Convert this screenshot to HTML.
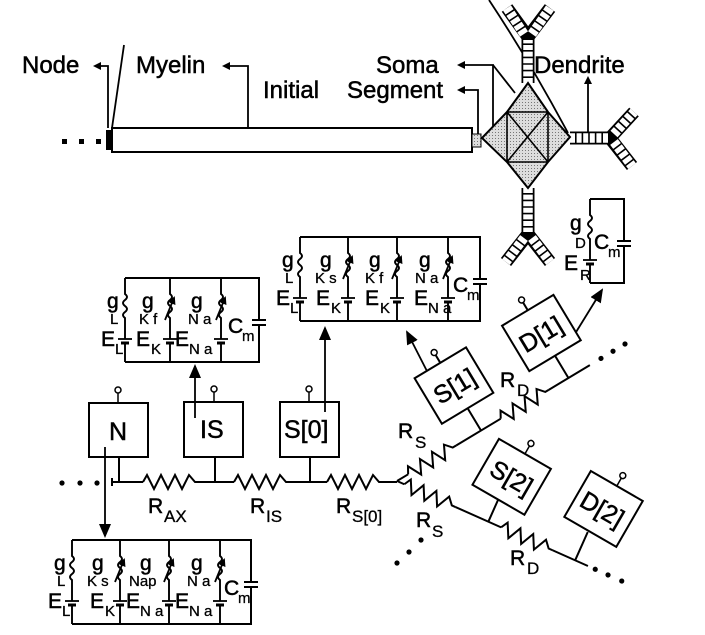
<!DOCTYPE html>
<html><head><meta charset="utf-8"><style>
html,body{margin:0;padding:0;background:#fff}
svg{display:block}
text{font-family:"Liberation Sans",Arial,sans-serif;fill:#000;stroke:#000;stroke-width:0.5}
.t{font-size:24px}
.g{font-size:21px}
.s{font-size:15px;stroke-width:0.3}
.b{font-size:25px}
</style></head><body>
<svg width="705" height="635" viewBox="0 0 705 635" xmlns="http://www.w3.org/2000/svg">
<defs>
<marker id="ah" markerWidth="8" markerHeight="8" refX="6" refY="4" orient="auto" markerUnits="userSpaceOnUse">
<path d="M0,0 L8,4 L0,8 z" fill="#000"/></marker>
<marker id="ah2" markerWidth="14" markerHeight="12" refX="12" refY="6" orient="auto" markerUnits="userSpaceOnUse">
<path d="M0,0 L14,6 L0,12 z" fill="#000"/></marker>
<pattern id="dots" width="3" height="3" patternUnits="userSpaceOnUse"><rect width="3" height="3" fill="#ddd"/><rect width="1" height="1" fill="#777"/></pattern>
<g id="br" fill="none" stroke="#000" stroke-width="1.9">
<path d="M0,0 V16 q4,3 0,6 q-4,3 0,6 q4,3 0,6 q-4,3 0,6 V61 M0,65 V84"/>
<path d="M-7,61 H7" stroke-width="1.8"/><path d="M-4,65 H4" stroke-width="3"/>
</g>
<g id="brv">
<use href="#br"/>
<path d="M-5,42 L4,20" stroke="#000" stroke-width="1.8" marker-end="url(#ah)"/>
</g>
<polyline id="zig" points="0,0 4,-7 11,7 18,-7 25,7 32,-7 39,7 46,-7 52,0 56,0" fill="none" stroke="#000" stroke-width="2"/>
</defs>

<text class="t" x="22" y="73">Node</text>
<text class="t" x="136" y="73">Myelin</text>
<text class="t" x="263" y="98">Initial</text>
<text class="t" x="376" y="73">Soma</text>
<text class="t" x="347" y="98">Segment</text>
<text class="t" x="534" y="73">Dendrite</text>

<g fill="none" stroke="#000" stroke-width="1.8">
<path d="M108,128 V66 H95" marker-end="url(#ah)"/>
<path d="M248,128 V66 H224" marker-end="url(#ah)"/>
<path d="M478,135 V90 H459" marker-end="url(#ah)"/>
<path d="M493,130 V65 H459" marker-end="url(#ah)"/>
<path d="M493,65 L515,93"/>
<path d="M588,133 V78" marker-end="url(#ah)"/>
<path d="M112,128 L124,45"/>
<path d="M489,0 Q530,62 568,133"/>
</g>
<rect x="62" y="139" width="5" height="5"/><rect x="79" y="139" width="5" height="5"/><rect x="96" y="139" width="5" height="5"/>
<rect x="106" y="130" width="6" height="20"/>
<rect x="112" y="128" width="360" height="24" fill="#fff" stroke="#000" stroke-width="2"/>
<rect x="472" y="134" width="9" height="13" fill="url(#dots)" stroke="#000" stroke-width="1"/>

<g fill="none">
<g stroke="#000" stroke-width="13">
<path d="M528,83 V35 M528,37 L507,8 M528,37 L550,8"/>
<path d="M570,138 H612 M610,138 L634,112 M610,138 L632,166"/>
<path d="M528,188 V236 M528,234 L506,262 M528,234 L550,262"/>
</g>
<g stroke="#fff" stroke-width="9.5" stroke-dasharray="5 1.6">
<path d="M528,83 V40 M524,34 L507,8 M532,34 L550,8"/>
<path d="M570,138 H608 M614,134 L634,112 M614,142 L632,166"/>
<path d="M528,188 V232 M524,238 L506,262 M532,238 L550,262"/>
</g>
</g>
<polygon points="482,138 507,112 528,83 548,112 570,137 548,162 528,188 507,162" fill="url(#dots)" stroke="#000" stroke-width="2"/>
<path d="M507,112 H548 M507,162 H548 M507,112 V162 M548,112 V162 M507,112 L548,162 M548,112 L507,162" stroke="#000" stroke-width="1.6" fill="none"/>

<g stroke="#000" stroke-width="2" fill="none">
<path d="M300,237 H480 V279 M300,321 H480 V284 M473,279 H487 M473,284 H487"/>
<path d="M125,278 H259 V320 M125,362 H259 V325 M252,320 H266 M252,325 H266"/>
<path d="M72,540 H251 V582 M72,624 H251 V587 M244,582 H258 M244,587 H258"/>
<path d="M590,199 H624 V241 M590,283 H624 V246 M617,241 H631 M617,246 H631"/>
</g>
<use href="#br" x="300" y="237"/><use href="#brv" x="348" y="237"/><use href="#brv" x="397" y="237"/><use href="#brv" x="448" y="237"/>
<use href="#br" x="125" y="278"/><use href="#brv" x="170" y="278"/><use href="#brv" x="221" y="278"/>
<use href="#br" x="72" y="540"/><use href="#brv" x="120" y="540"/><use href="#brv" x="169" y="540"/><use href="#brv" x="220" y="540"/>
<use href="#br" x="590" y="199"/>

<g transform="translate(300,237)">
<text class="g" x="-18" y="30">g</text><text class="s" x="-15" y="46">L</text>
<text class="g" x="-24" y="68">E</text><text class="s" x="-10" y="76">L</text>
<text class="g" x="20" y="30">g</text><text class="s" x="15" y="46">K s</text>
<text class="g" x="16" y="68">E</text><text class="s" x="31" y="76">K</text>
<text class="g" x="69" y="30">g</text><text class="s" x="65" y="46">K f</text>
<text class="g" x="65" y="68">E</text><text class="s" x="80" y="76">K</text>
<text class="g" x="119" y="30">g</text><text class="s" x="115" y="46">N a</text>
<text class="g" x="114" y="68">E</text><text class="s" x="128" y="76">N a</text>
<text class="g" x="153" y="55">C</text><text class="s" x="167" y="63">m</text>
</g>
<g transform="translate(125,278)">
<text class="g" x="-18" y="30">g</text><text class="s" x="-15" y="46">L</text>
<text class="g" x="-24" y="68">E</text><text class="s" x="-10" y="76">L</text>
<text class="g" x="17" y="30">g</text><text class="s" x="14" y="46">K f</text>
<text class="g" x="11" y="68">E</text><text class="s" x="26" y="76">K</text>
<text class="g" x="66" y="30">g</text><text class="s" x="63" y="46">N a</text>
<text class="g" x="50" y="68">E</text><text class="s" x="64" y="76">N a</text>
<text class="g" x="103" y="55">C</text><text class="s" x="117" y="63">m</text>
</g>
<g transform="translate(72,540)">
<text class="g" x="-18" y="30">g</text><text class="s" x="-15" y="46">L</text>
<text class="g" x="-24" y="68">E</text><text class="s" x="-10" y="76">L</text>
<text class="g" x="20" y="30">g</text><text class="s" x="15" y="46">K s</text>
<text class="g" x="18" y="68">E</text><text class="s" x="33" y="76">K</text>
<text class="g" x="68" y="30">g</text><text class="s" x="57" y="46">Nap</text>
<text class="g" x="54" y="68">E</text><text class="s" x="68" y="76">N a</text>
<text class="g" x="119" y="30">g</text><text class="s" x="115" y="46">N a</text>
<text class="g" x="103" y="68">E</text><text class="s" x="117" y="76">N a</text>
<text class="g" x="152" y="55">C</text><text class="s" x="166" y="63">m</text>
</g>
<g transform="translate(590,199)">
<text class="g" x="-20" y="31">g</text><text class="s" x="-15" y="49">D</text>
<text class="g" x="-26" y="71">E</text><text class="s" x="-10" y="81">R</text>
<text class="g" x="4" y="50">C</text><text class="s" x="18" y="58">m</text>
</g>

<circle cx="62" cy="483" r="2.6"/><circle cx="80" cy="483" r="2.6"/><circle cx="97" cy="483" r="2.6"/>
<path d="M112,478 V486 M112,482 H143 M199,482 H234 M290,482 H327 M383,482 H397 M119,457 V482 M215,457 V482 M310,457 V482" stroke="#000" stroke-width="2" fill="none"/>
<use href="#zig" transform="translate(143,482)"/>
<use href="#zig" transform="translate(234,482)"/>
<use href="#zig" transform="translate(327,482)"/>

<g stroke="#000" stroke-width="2" fill="#fff">
<rect x="89" y="403" width="59" height="54"/>
<rect x="184" y="402" width="59" height="55"/>
<rect x="280" y="402" width="59" height="55"/>
</g>
<path d="M118,403 V393 M214,402 V392 M309,402 V392" stroke="#000" stroke-width="1.5"/>
<g fill="#fff" stroke="#000" stroke-width="1.5"><circle cx="118" cy="390" r="3"/><circle cx="214" cy="389" r="3"/><circle cx="309" cy="389" r="3"/></g>
<text class="b" x="109" y="440">N</text>
<text class="b" x="200" y="438">IS</text>
<text class="b" x="284" y="438">S[0]</text>

<g fill="none" stroke="#000" stroke-width="1.8">
<path d="M105,447 V536" marker-end="url(#ah2)"/>
<path d="M195,418 V366" marker-end="url(#ah2)"/>
<path d="M325,412 V328" marker-end="url(#ah2)"/>
<path d="M430,377 L407,332" marker-end="url(#ah2)"/>
<path d="M573,337 L602,290" marker-end="url(#ah2)"/>
</g>

<text class="g" x="148" y="513">R</text><text class="s" x="164" y="522" style="font-size:17px">AX</text>
<text class="g" x="250" y="513">R</text><text class="s" x="266" y="522" style="font-size:17px">IS</text>
<text class="g" x="336" y="513">R</text><text class="s" x="352" y="522" style="font-size:17px">S[0]</text>

<g transform="translate(397,481) rotate(-31)">
<path d="M0,0 H13 M69,0 H121 M177,0 H225 M98,0 V-26 M200,0 V-26 M98,-79 V-88 M200,-79 V-88" stroke="#000" stroke-width="2" fill="none"/>
<use href="#zig" x="13"/><use href="#zig" x="121"/>
<rect x="68" y="-79" width="60" height="53" fill="#fff" stroke="#000" stroke-width="2"/>
<rect x="170" y="-79" width="60" height="53" fill="#fff" stroke="#000" stroke-width="2"/>
<circle cx="98" cy="-91" r="3" fill="#fff" stroke="#000" stroke-width="1.5"/>
<circle cx="200" cy="-91" r="3" fill="#fff" stroke="#000" stroke-width="1.5"/>
<text class="b" x="76" y="-43">S[1]</text>
<text class="b" x="176" y="-43">D[1]</text>
<circle cx="238" cy="0" r="2.6"/><circle cx="252" cy="0" r="2.6"/><circle cx="266" cy="0" r="2.6"/>
</g>
<g transform="translate(397,481) rotate(24)">
<path d="M0,0 H8 M64,0 H114 M170,0 H209 M100,0 V-24 M195,0 V-31" stroke="#000" stroke-width="2" fill="none"/>
<use href="#zig" x="8"/><use href="#zig" x="114"/>
<g transform="rotate(6 103 -50)">
<rect x="73" y="-77" width="60" height="53" fill="#fff" stroke="#000" stroke-width="2"/>
<path d="M103,-77 V-86" stroke="#000" stroke-width="1.5"/>
<circle cx="103" cy="-89" r="3" fill="#fff" stroke="#000" stroke-width="1.5"/>
<text class="b" x="81" y="-41">S[2]</text>
</g>
<g transform="rotate(6 200 -58)">
<rect x="170" y="-85" width="60" height="53" fill="#fff" stroke="#000" stroke-width="2"/>
<path d="M200,-85 V-94" stroke="#000" stroke-width="1.5"/>
<circle cx="200" cy="-97" r="3" fill="#fff" stroke="#000" stroke-width="1.5"/>
<text class="b" x="176" y="-49">D[2]</text>
</g>
<circle cx="217" cy="0" r="2.6"/><circle cx="231" cy="0" r="2.6"/><circle cx="246" cy="0" r="2.6"/>
</g>
<circle cx="397" cy="563" r="2.6"/><circle cx="409" cy="552" r="2.6"/><circle cx="421" cy="540" r="2.6"/>

<text class="g" x="398" y="438">R</text><text class="s" x="415" y="448" style="font-size:17px">S</text>
<text class="g" x="500" y="387">R</text><text class="s" x="517" y="396" style="font-size:17px">D</text>
<text class="g" x="416" y="527">R</text><text class="s" x="432" y="537" style="font-size:17px">S</text>
<text class="g" x="510" y="565">R</text><text class="s" x="527" y="574" style="font-size:17px">D</text>
</svg>
</body></html>
